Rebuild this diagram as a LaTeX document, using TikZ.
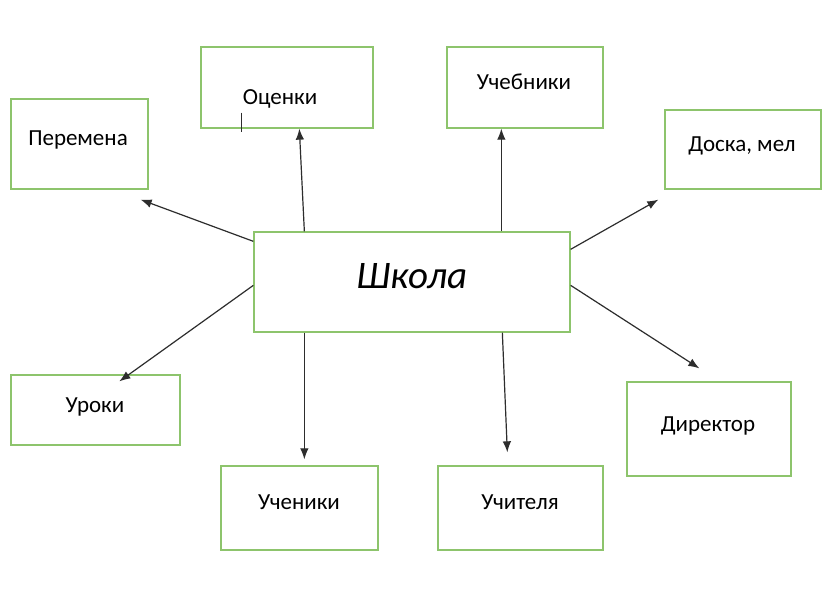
\documentclass[tikz,border=0pt]{standalone}
\usepackage{fontspec}
\setmainfont{Carlito}
\usetikzlibrary{arrows.meta,calc}
\definecolor{boxgreen}{RGB}{141,196,108}
\definecolor{linegray}{RGB}{45,45,45}
\begin{document}
\begin{tikzpicture}[x=1pt,y=-1pt,
  box/.style={draw=boxgreen, line width=1.3pt, fill=white, inner sep=0pt},
  lbl/.style={anchor=base, inner sep=0pt, font=\fontsize{23}{27}\selectfont},
  conn/.style={draw=linegray, line width=1.2pt, -{Latex[length=11pt,width=8.5pt]}}]
\useasboundingbox (0,0) rectangle (831,593);
\fill[white] (0,0) rectangle (831,593);
% boxes
\node[box, minimum width=316pt, minimum height=100pt] (skola) at (412,282) {};
\node[box, minimum width=172pt, minimum height=81pt] (ocenki) at (287,87.5) {};
\node[box, minimum width=156pt, minimum height=81pt] (uchebniki) at (525,87.5) {};
\node[box, minimum width=137pt, minimum height=90pt] (peremena) at (79.5,144) {};
\node[box, minimum width=156pt, minimum height=79pt] (doska) at (743,149.5) {};
\node[box, minimum width=169pt, minimum height=70pt] (uroki) at (95.5,410) {};
\node[box, minimum width=157pt, minimum height=84pt] (ucheniki) at (299.5,508) {};
\node[box, minimum width=165pt, minimum height=84pt] (uchitelya) at (520.5,508) {};
\node[box, minimum width=164pt, minimum height=94pt] (direktor) at (709,429) {};
% labels
\node[lbl, font=\fontsize{39}{46}\selectfont\itshape] (skolaT) at (412,289) {Школа};
\node[lbl] (ocenkiT) at (280,105) {Оценки};
\node[lbl] (uchebnikiT) at (524,90) {Учебники};
\node[lbl] (peremenaT) at (78,146) {Перемена};
\node[lbl] (doskaT) at (742,152) {Доска, мел};
\node[lbl] (urokiT) at (95,413) {Уроки};
\node[lbl] (uchenikiT) at (299,510) {Ученики};
\node[lbl] (uchitelyaT) at (520,510) {Учителя};
\node[lbl] (direktorT) at (708,432) {Директор};
% cursor mark
\coordinate (curA) at ($(ocenki.south west)+(41,-16)$);
\coordinate (curB) at ($(ocenki.south west)+(41,3)$);
\draw[linegray, line width=0.9pt] (curA) -- (curB);
% connectors
\draw[conn] ($(skola.north west)+(51,0)$) -- ($(ocenki.south west)+(99,0)$);
\draw[conn] ($(skola.north west)+(248,0)$) -- ($(uchebniki.south west)+(55,0)$);
\draw[conn] ($(skola.north west)+(0,10)$) -- ($(peremena.south east)+(-8,10)$);
\draw[conn] ($(skola.north east)+(0,18)$) -- ($(doska.south west)+(-6,10)$);
\draw[conn] ($(skola.north west)+(0,54)$) -- ($(uroki.north west)+(109,7)$);
\draw[conn] ($(skola.south west)+(51,0)$) -- ($(ucheniki.north west)+(84,-6)$);
\draw[conn] ($(skola.south west)+(249,0)$) -- ($(uchitelya.north west)+(70,-13)$);
\draw[conn] ($(skola.north east)+(0,54)$) -- ($(direktor.north west)+(73,-13)$);
\end{tikzpicture}
\end{document}
